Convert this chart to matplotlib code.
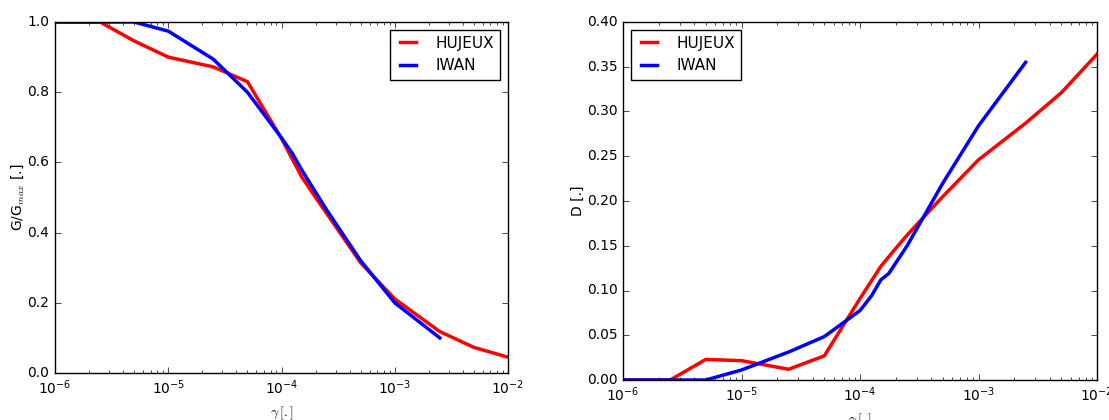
import matplotlib
matplotlib.use("Agg")
import matplotlib.pyplot as plt

# strain levels
gam_huj = [1e-6, 2.5e-6, 5e-6, 1e-5, 2.5e-5, 5e-5, 1e-4, 1.5e-4, 2e-4, 2.5e-4,
           5e-4, 1e-3, 2.5e-3, 5e-3, 1e-2]
gam_iwan = [1e-6, 5e-6, 1e-5, 2.5e-5, 5e-5, 1e-4, 1.25e-4, 1.5e-4, 1.75e-4,
            2.5e-4, 5e-4, 1e-3, 2.5e-3]

# G/Gmax
g_huj = [1.0, 1.0, 0.946, 0.90, 0.872, 0.83, 0.668, 0.56, 0.5, 0.455,
         0.314, 0.211, 0.118, 0.073, 0.045]
g_iwan = [1.0, 1.0, 0.974, 0.894, 0.80, 0.67, 0.625, 0.58, 0.545,
          0.465, 0.32, 0.20, 0.10]

# damping
d_huj = [0.0, 0.0, 0.023, 0.0216, 0.012, 0.027, 0.091, 0.127, 0.147, 0.162,
         0.205, 0.246, 0.287, 0.321, 0.364]
d_iwan = [0.0, 0.0, 0.0112, 0.0313, 0.0485, 0.0776, 0.094, 0.112, 0.119,
          0.150, 0.22, 0.284, 0.355]

plt.style.use("classic")
plt.rcParams["font.size"] = 10

fig = plt.figure(figsize=(11.09, 4.2), dpi=100)
fig.patch.set_facecolor("white")

leg_kw = dict(fontsize=11, handlelength=1.6, handletextpad=1.0, borderpad=0.4)

ax1 = fig.add_axes([55 / 1109, 1 - 373 / 420, (508 - 55) / 1109, (373 - 22) / 420])
ax1.semilogx(gam_huj, g_huj, "r", lw=2.5, label="HUJEUX")
ax1.semilogx(gam_iwan, g_iwan, "b", lw=2.5, label="IWAN")
ax1.set_xlim(1e-6, 1e-2)
ax1.set_ylim(0, 1)
ax1.set_xlabel(r"$\gamma\,[.]$")
ax1.set_ylabel(r"G/G$_{max}$ [.]", labelpad=1)
ax1.legend(loc="upper right", **leg_kw)

ax2 = fig.add_axes([623 / 1109, 1 - 380 / 420, (1097 - 623) / 1109, (380 - 22) / 420])
ax2.semilogx(gam_huj, d_huj, "r", lw=2.5, label="HUJEUX")
ax2.semilogx(gam_iwan, d_iwan, "b", lw=2.5, label="IWAN")
ax2.set_xlim(1e-6, 1e-2)
ax2.set_ylim(0, 0.4)
ax2.set_xlabel(r"$\gamma\,[.]$")
ax2.set_ylabel("D [.]", labelpad=1)
ax2.legend(loc="upper left", **leg_kw)

fig.savefig("out.png", dpi=100, facecolor="white")
plt.close(fig)
